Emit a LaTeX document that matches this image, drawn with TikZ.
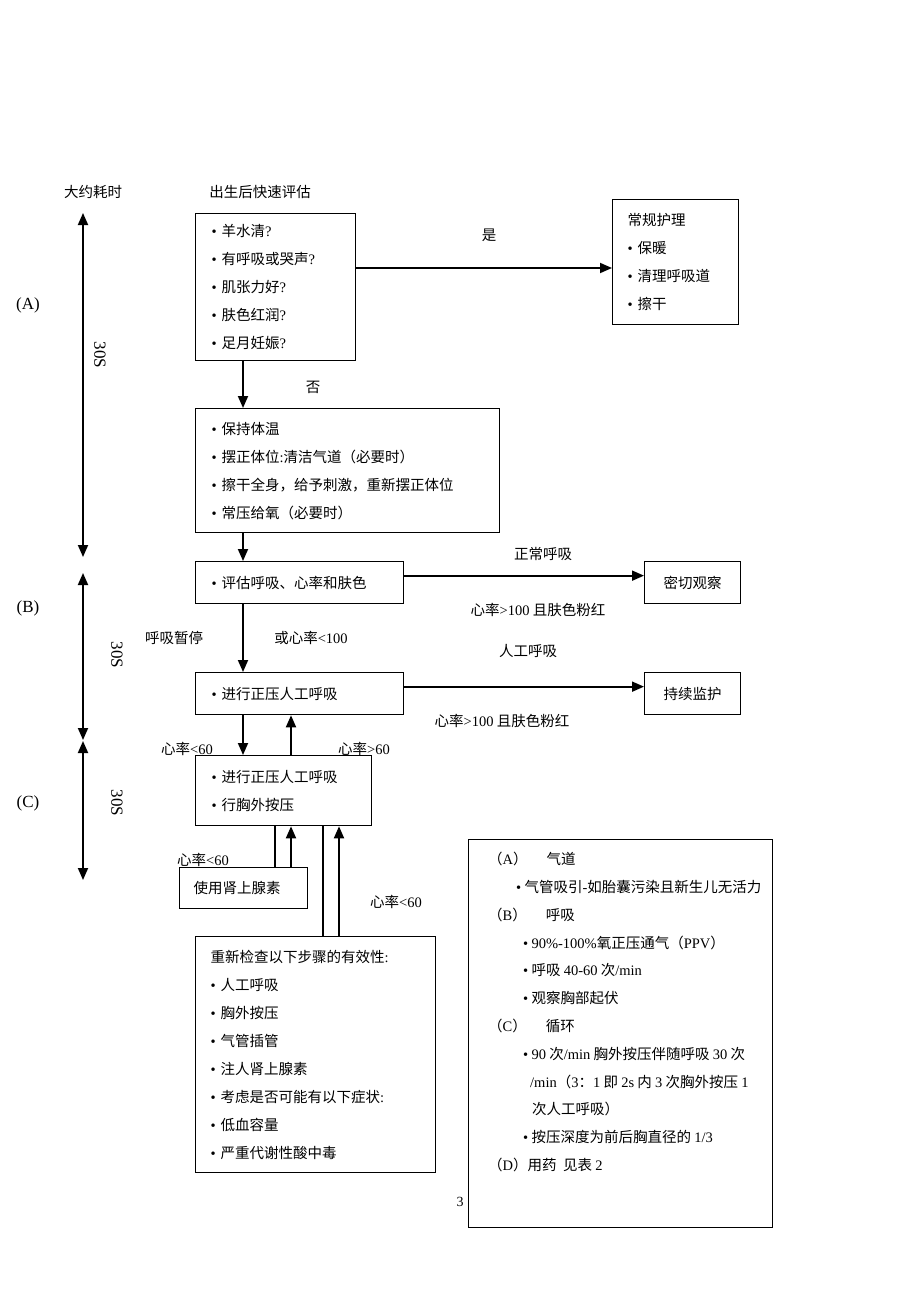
\documentclass[tikz,border=0pt]{standalone}
\usepackage{fontspec}
\setmainfont{Liberation Serif}
\newfontfamily\cjk{Noto Sans CJK SC}
\usetikzlibrary{arrows.meta}
\newcommand\lat[1]{{\rmfamily #1}}
\newcommand\bul{\lat{•}\ }
\tikzset{
  box/.style={draw, line width=1.3pt, anchor=north west, inner xsep=16pt, inner ysep=0pt,
    align=left, font={\cjk\fontsize{14.5}{28}\selectfont}},
  lbl/.style={font={\cjk\fontsize{14.5}{17}\selectfont}, inner sep=1pt},
  side/.style={font={\rmfamily\fontsize{17}{20}\selectfont}, inner sep=1pt},
  arr/.style={line width=1.8pt, -{Triangle[length=12pt,width=10pt]}},
  link/.style={line width=1.3pt},
  axis/.style={line width=1.8pt, {Triangle[length=12pt,width=10pt]}-{Triangle[length=12pt,width=10pt]}}
}
\begin{document}
\begin{tikzpicture}[x=1pt, y=-1pt]
\fill[white] (0,0) rectangle (920,1300);
\useasboundingbox (0,0) rectangle (920,1300);
% headings
\node[lbl] (timehead) at (93,192) {大约耗时};
\node[lbl] (evalhead) at (260,192) {出生后快速评估};
% boxes
\node[box, text width=128pt, minimum height=147pt, inner xsep=16pt] (assess) at (195,213)
  {\bul 羊水清\lat{?}\\ \bul 有呼吸或哭声\lat{?}\\ \bul 肌张力好\lat{?}\\ \bul 肤色红润\lat{?}\\ \bul 足月妊娠\lat{?}};
\node[box, text width=96pt, minimum height=125pt, inner xsep=15pt] (care) at (612,199)
  {常规护理\\ \bul 保暖\\ \bul 清理呼吸道\\ \bul 擦干};
\node[box, text width=272pt, minimum height=124pt] (steps) at (195,408)
  {\bul 保持体温\\ \bul 摆正体位\lat{:}清洁气道（必要时）\\ \bul 擦干全身，给予刺激，重新摆正体位\\ \bul 常压给氧（必要时）};
\node[box, text width=176pt, minimum height=42pt] (eval) at (195,561) {\bul 评估呼吸、心率和肤色};
\node[box, text width=64pt, minimum height=42pt, align=center] (watch) at (644,561) {密切观察};
\node[box, text width=176pt, minimum height=42pt] (ppv) at (195,672) {\bul 进行正压人工呼吸};
\node[box, text width=64pt, minimum height=42pt, align=center] (monitor) at (644,672) {持续监护};
\node[box, text width=144pt, minimum height=70pt] (cpr) at (195,755) {\bul 进行正压人工呼吸\\ \bul 行胸外按压};
\node[box, text width=100pt, minimum height=41pt, inner xsep=14pt] (epi) at (179,867) {使用肾上腺素};
\node[box, text width=210pt, minimum height=236pt, inner xsep=15pt] (recheck) at (195,936)
  {重新检查以下步骤的有效性\lat{:}\\ \bul 人工呼吸\\ \bul 胸外按压\\ \bul 气管插管\\ \bul 注人肾上腺素\\
   \bul 考虑是否可能有以下症状\lat{:}\\ \bul 低血容量\\ \bul 严重代谢性酸中毒};
\node[box, minimum width=304pt, minimum height=388pt, inner xsep=0pt] (notes) at (468,839) {};
\node[anchor=north west, inner sep=0pt, align=left, font={\cjk\fontsize{14.5}{27.8}\selectfont}] (notestext) at (488,852)
  {（\lat{A}）\hspace*{19pt}气道\\
   \hspace*{28pt}\bul 气管吸引\lat{-}如胎囊污染且新生儿无活力\\
   （\lat{B}）\hspace*{19pt}呼吸\\
   \hspace*{35pt}\bul \lat{90\%-100\%}氧正压通气（\lat{PPV}）\\
   \hspace*{35pt}\bul 呼吸 \lat{40-60} 次\lat{/min}\\
   \hspace*{35pt}\bul 观察胸部起伏\\
   （\lat{C}）\hspace*{19pt}循环\\
   \hspace*{35pt}\bul \lat{90} 次\lat{/min} 胸外按压伴随呼吸 \lat{30} 次\\
   \hspace*{42pt}\lat{/min}（\lat{3}：\lat{1} 即 \lat{2s} 内 \lat{3} 次胸外按压 \lat{1}\\
   \hspace*{44pt}次人工呼吸）\\
   \hspace*{35pt}\bul 按压深度为前后胸直径的 \lat{1/3}\\
   （\lat{D}）用药\ \ 见表 \lat{2}};
% connectors
\coordinate (ya) at (0,268);
\coordinate (xm) at (243,0);
\coordinate (xu) at (291,0);
\coordinate (xl) at (275,0);
\coordinate (xr) at (323,0);
\coordinate (xs) at (339,0);
\draw[arr] (ya -| assess.east) -- (ya -| care.west);
\node[lbl] (yes) at (489,235) {是};
\draw[arr] (xm |- assess.south) -- (xm |- steps.north);
\node[lbl] (no) at (313,387) {否};
\draw[arr] (xm |- steps.south) -- (xm |- eval.north);
\draw[arr] ([yshift=7pt]eval.east) -- ([yshift=7pt]watch.west);
\node[lbl] (normal) at (543,554) {正常呼吸};
\node[lbl] (pink1) at (538,610) {心率\lat{>100} 且肤色粉红};
\draw[arr] (xm |- eval.south) -- (xm |- ppv.north);
\node[lbl] (apnea) at (174,638) {呼吸暂停};
\node[lbl] (hrlow) at (311,638) {或心率\lat{<100}};
\node[lbl] (artif) at (528,651) {人工呼吸};
\draw[arr] ([yshift=7pt]ppv.east) -- ([yshift=7pt]monitor.west);
\node[lbl] (pink2) at (502,721) {心率\lat{>100} 且肤色粉红};
\draw[arr] (xm |- ppv.south) -- (xm |- cpr.north);
\draw[arr] (xu |- cpr.north) -- (xu |- ppv.south);
\node[lbl] (lt60a) at (187,749) {心率\lat{<60}};
\node[lbl] (gt60) at (364,749) {心率\lat{>60}};
\draw[link] (xl |- cpr.south) -- (xl |- epi.north);
\draw[arr] (xu |- epi.north) -- (xu |- cpr.south);
\node[lbl] (lt60b) at (203,860) {心率\lat{<60}};
\draw[link] (xr |- cpr.south) -- (xr |- recheck.north);
\draw[arr] (xs |- recheck.north) -- (xs |- cpr.south);
\node[lbl] (lt60c) at (396,902) {心率\lat{<60}};
% time axis
\draw[axis] (83,213) -- (83,557);
\draw[axis] (83,573) -- (83,740);
\draw[axis] (83,741) -- (83,880);
\node[side, rotate=-90] (tA) at (100,355) {30S};
\node[side, rotate=-90] (tB) at (117,655) {30S};
\node[side, rotate=-90] (tC) at (117,803) {30S};
\node[side] (stA) at (28,305) {(A)};
\node[side] (stB) at (28,608) {(B)};
\node[side] (stC) at (28,803) {(C)};
\node[font={\rmfamily\fontsize{14}{16}\selectfont}] (page) at (460,1202) {3};
\end{tikzpicture}
\end{document}
